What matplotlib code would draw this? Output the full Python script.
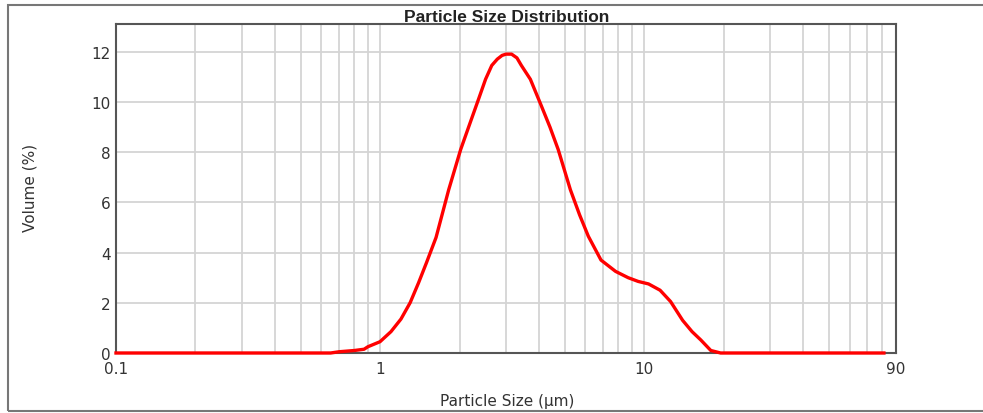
import matplotlib.pyplot as plt
from matplotlib.ticker import FixedLocator, NullFormatter
from matplotlib.patches import Rectangle

# particle size (um) and volume (%)
size_um = [0.1, 0.65, 0.7, 0.8, 0.87, 0.9, 1.0, 1.1, 1.2, 1.3, 1.4, 1.5,
           1.63, 1.82, 2.02, 2.2, 2.36, 2.51, 2.65, 2.78, 2.9, 3.0, 3.15,
           3.3, 3.43, 3.71, 4.08, 4.4, 4.73, 5.26, 5.7, 6.15, 6.87, 7.8,
           8.7, 9.5, 10.4, 11.5, 12.6, 14.0, 15.2, 16.4, 17.9, 19.5, 81]
volume = [0, 0, 0.05, 0.1, 0.15, 0.25, 0.45, 0.85, 1.35, 2.0, 2.8, 3.6,
          4.6, 6.5, 8.1, 9.2, 10.1, 10.9, 11.45, 11.7, 11.85, 11.9, 11.9,
          11.75, 11.45, 10.9, 9.85, 9.0, 8.1, 6.5, 5.5, 4.65, 3.7, 3.25,
          3.0, 2.85, 2.75, 2.5, 2.05, 1.3, 0.85, 0.52, 0.1, 0, 0]

x_ticks = [0.1, 1, 10, 90]
x_tick_labels = ['0.1', '1', '10', '90']
y_ticks = [0, 2, 4, 6, 8, 10, 12]

plt.rcParams['font.family'] = ['DejaVu Sans']

fig = plt.figure(figsize=(9.83, 4.14), dpi=100)
ax = fig.add_axes([116 / 983, 1 - 354 / 414, 780 / 983, 329 / 414])

ax.plot(size_um, volume, color='#ff0000', linewidth=2.4, clip_on=False,
        solid_joinstyle='round', zorder=5)

ax.set_xscale('log')
ax.set_xlim(0.1, 90)
ax.set_ylim(0, 13.1)

minor = [m * 10 ** e for e in (-1, 0, 1) for m in range(2, 10)]
ax.xaxis.set_major_locator(FixedLocator(x_ticks))
ax.set_xticklabels(x_tick_labels)
ax.xaxis.set_minor_locator(FixedLocator(minor))
ax.xaxis.set_minor_formatter(NullFormatter())
ax.set_yticks(y_ticks)

ax.grid(True, which='both', axis='x', color='#d4d4d4', linewidth=1.3)
ax.grid(True, which='major', axis='y', color='#d4d4d4', linewidth=1.3)
ax.set_axisbelow(True)

ax.tick_params(which='both', length=0, labelsize=11, colors='#333333',
               pad=4)
ax.tick_params(axis='x', pad=6)
for s in ax.spines.values():
    s.set_color('#555555')
    s.set_linewidth(1.5)

fig.text(30 / 983, 1 - 188 / 414, 'Volume (%)', rotation=90, ha='center',
         va='center', fontsize=11, color='#333333')
fig.text(507 / 983, 1 - 402 / 414, 'Particle Size (µm)', ha='center',
         va='center', fontsize=11, color='#333333')
fig.text(507 / 983, 1 - 18 / 414, 'Particle Size Distribution', ha='center',
         va='center', fontsize=12.5, fontweight='bold', color='#222222',
         family='Liberation Sans')

# outer frame of the exported chart (right edge lies off the picture)
fig.patches.append(Rectangle((8 / 983, 2 / 414), 1.05, 406 / 414,
                             transform=fig.transFigure, fill=False,
                             edgecolor='#777777', linewidth=1.5))

fig.savefig('out.png', dpi=100)
